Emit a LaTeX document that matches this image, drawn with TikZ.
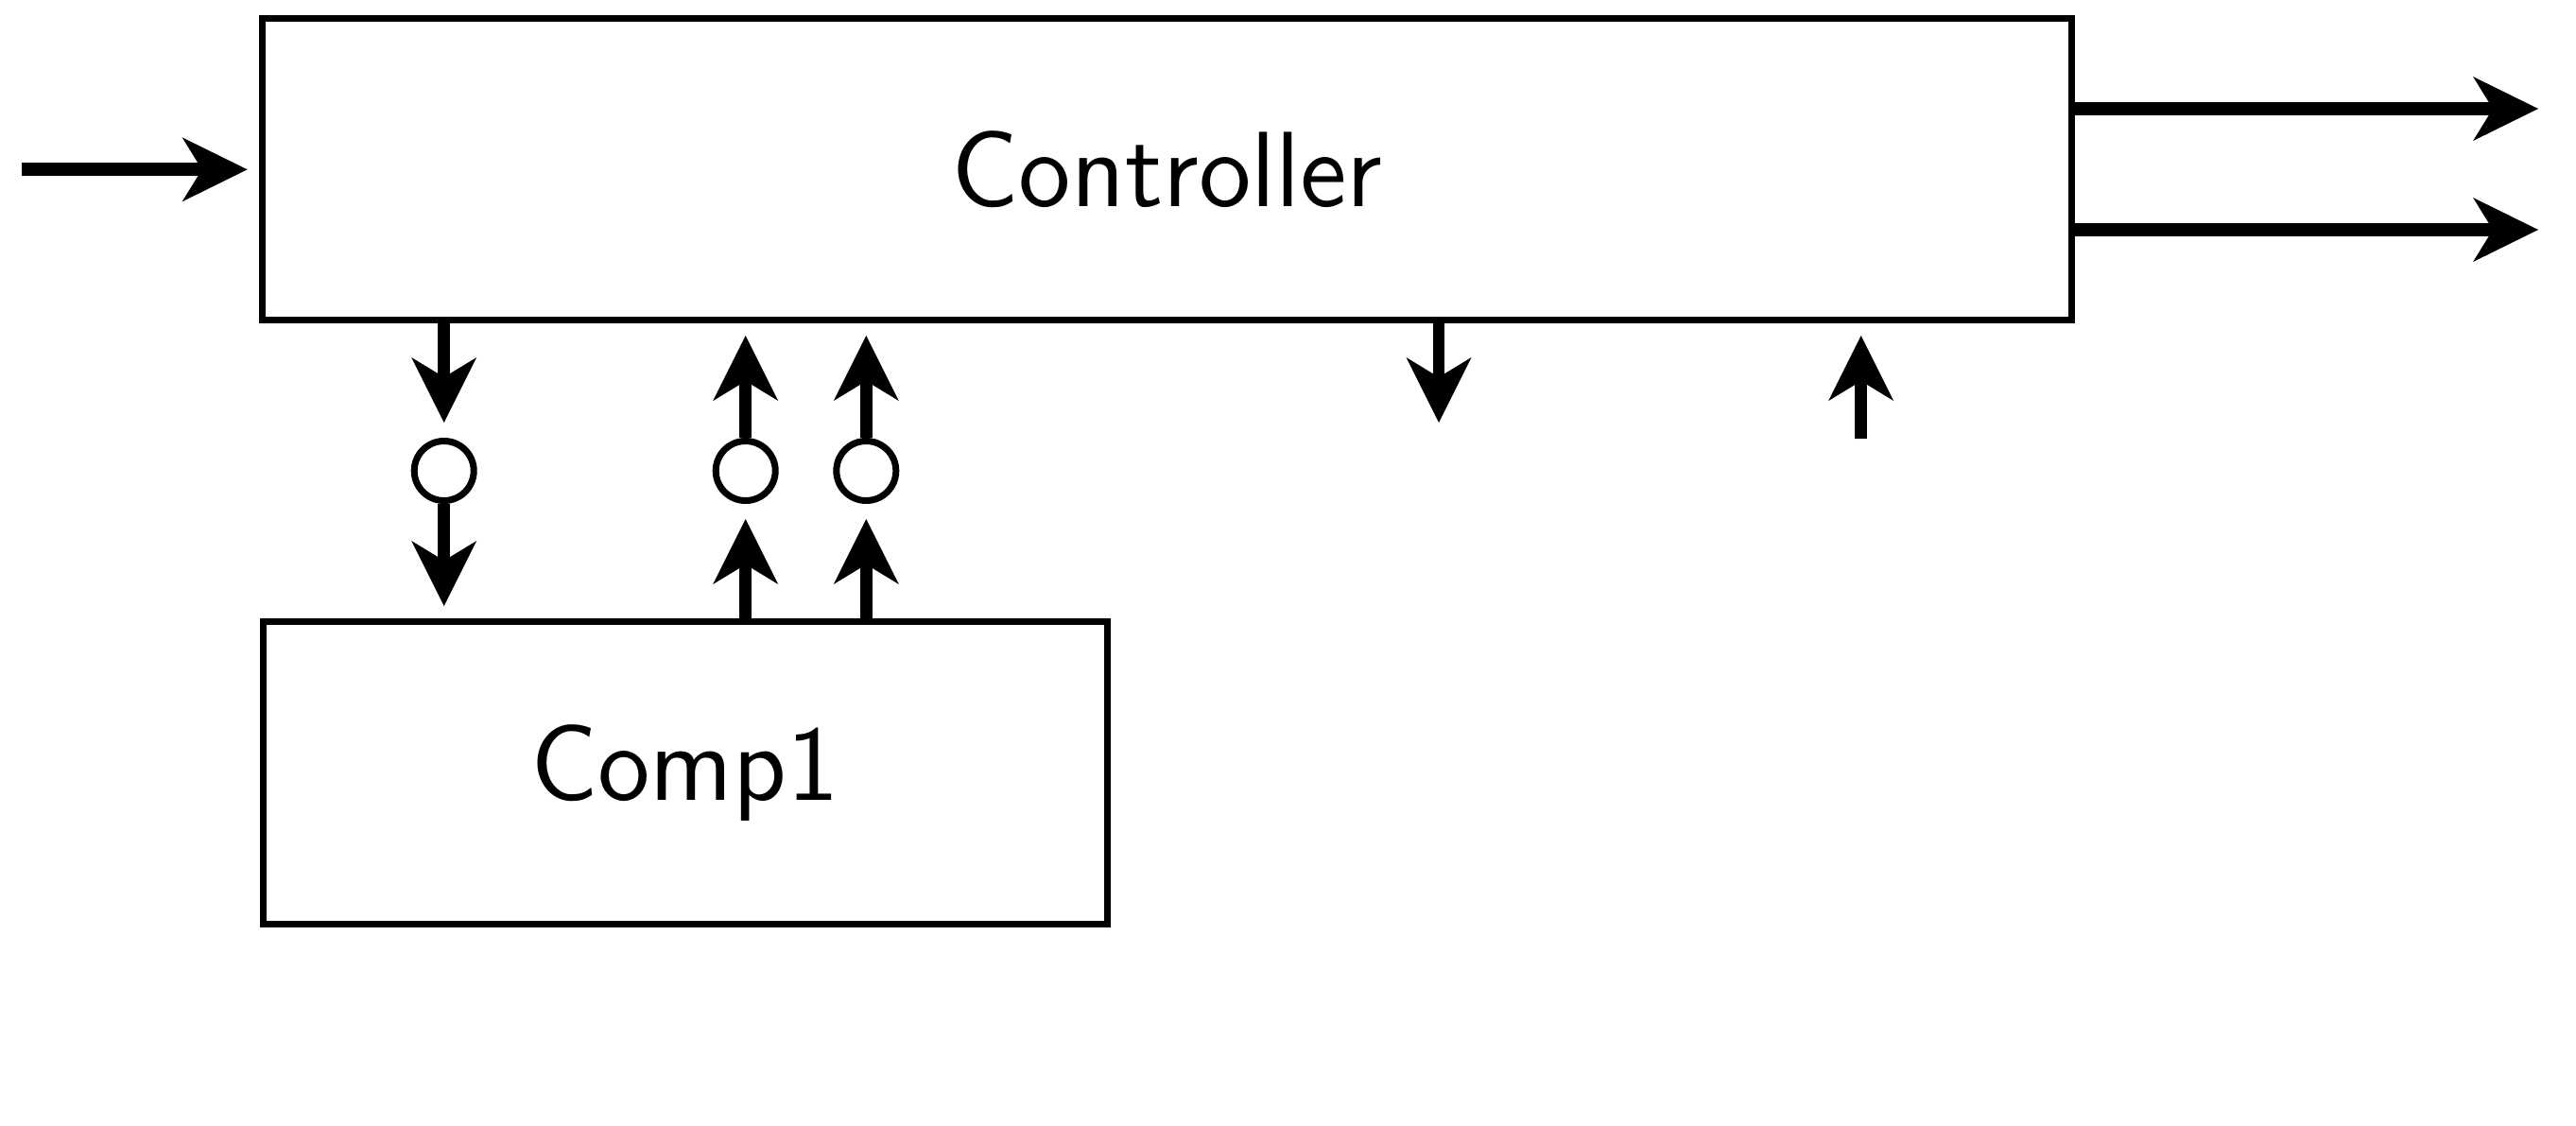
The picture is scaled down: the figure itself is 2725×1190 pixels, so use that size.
\documentclass[tikz,border=0pt]{standalone}
\usepackage{graphicx}
\usetikzlibrary{arrows.meta}
\newcommand{\blocklabel}[1]{\scalebox{2.36}{\fontsize{12}{14}\selectfont\sffamily #1}}
\begin{document}
\begin{tikzpicture}[x=0.25pt,y=-0.25pt,
  block/.style={draw,line width=1.75pt,rectangle,inner sep=0pt},
  port/.style={draw,line width=1.75pt,circle,inner sep=0pt,
    minimum size=15.75pt},
  vsig/.style={line width=3.2pt,
    -{Stealth[length=17.25pt,width=17.25pt,inset=5.25pt,line width=0pt]}},
  hsig/.style={line width=3.5pt,
    -{Stealth[length=17.25pt,width=17pt,inset=5.25pt,line width=0pt]}}]
\useasboundingbox (0,0) rectangle (2725,1190);

% main blocks
\node[block,minimum width=478.4pt,minimum height=79.75pt] (ctrl) at (1234.75,179) {\blocklabel{Controller}};
\node[block,minimum width=223.35pt,minimum height=79.9pt] (comp) at (724.7,817.2) {\blocklabel{Comp1}};

% interface ports
\node[port] (p1) at (469.7,498) {};
\node[port] (p2) at (788.7,498) {};
\node[port] (p3) at (916.3,498) {};

% free ends of signal lines
\coordinate (inStart) at (22.7,179.3);
\coordinate (out1) at (2685,115);
\coordinate (out2) at (2685,243);
\coordinate (t1) at (469.7,447);
\coordinate (b1) at (469.7,641);
\coordinate (t2) at (788.7,355);
\coordinate (b2) at (788.7,549);
\coordinate (t3) at (916.3,355);
\coordinate (b3) at (916.3,549);
\coordinate (t4) at (1522,447);
\coordinate (s5) at (1968.7,464);
\coordinate (t5) at (1968.7,355);

% input and outputs of the controller
\draw[hsig,shorten >=3.2pt] (inStart) -- (ctrl.west |- inStart);
\draw[hsig] (ctrl.east |- out1) -- (out1);
\draw[hsig] (ctrl.east |- out2) -- (out2);

% controller to Comp1 through port 1
\draw[vsig] (ctrl.south -| t1) -- (t1);
\draw[vsig] (p1.south) -- (b1);

% Comp1 back to controller through ports 2 and 3
\draw[vsig] (comp.north -| b2) -- (b2);
\draw[vsig] (p2.north) -- (t2);
\draw[vsig] (comp.north -| b3) -- (b3);
\draw[vsig] (p3.north) -- (t3);

% unconnected controller signals
\draw[vsig] (ctrl.south -| t4) -- (t4);
\draw[vsig] (s5) -- (t5);
\end{tikzpicture}
\end{document}
